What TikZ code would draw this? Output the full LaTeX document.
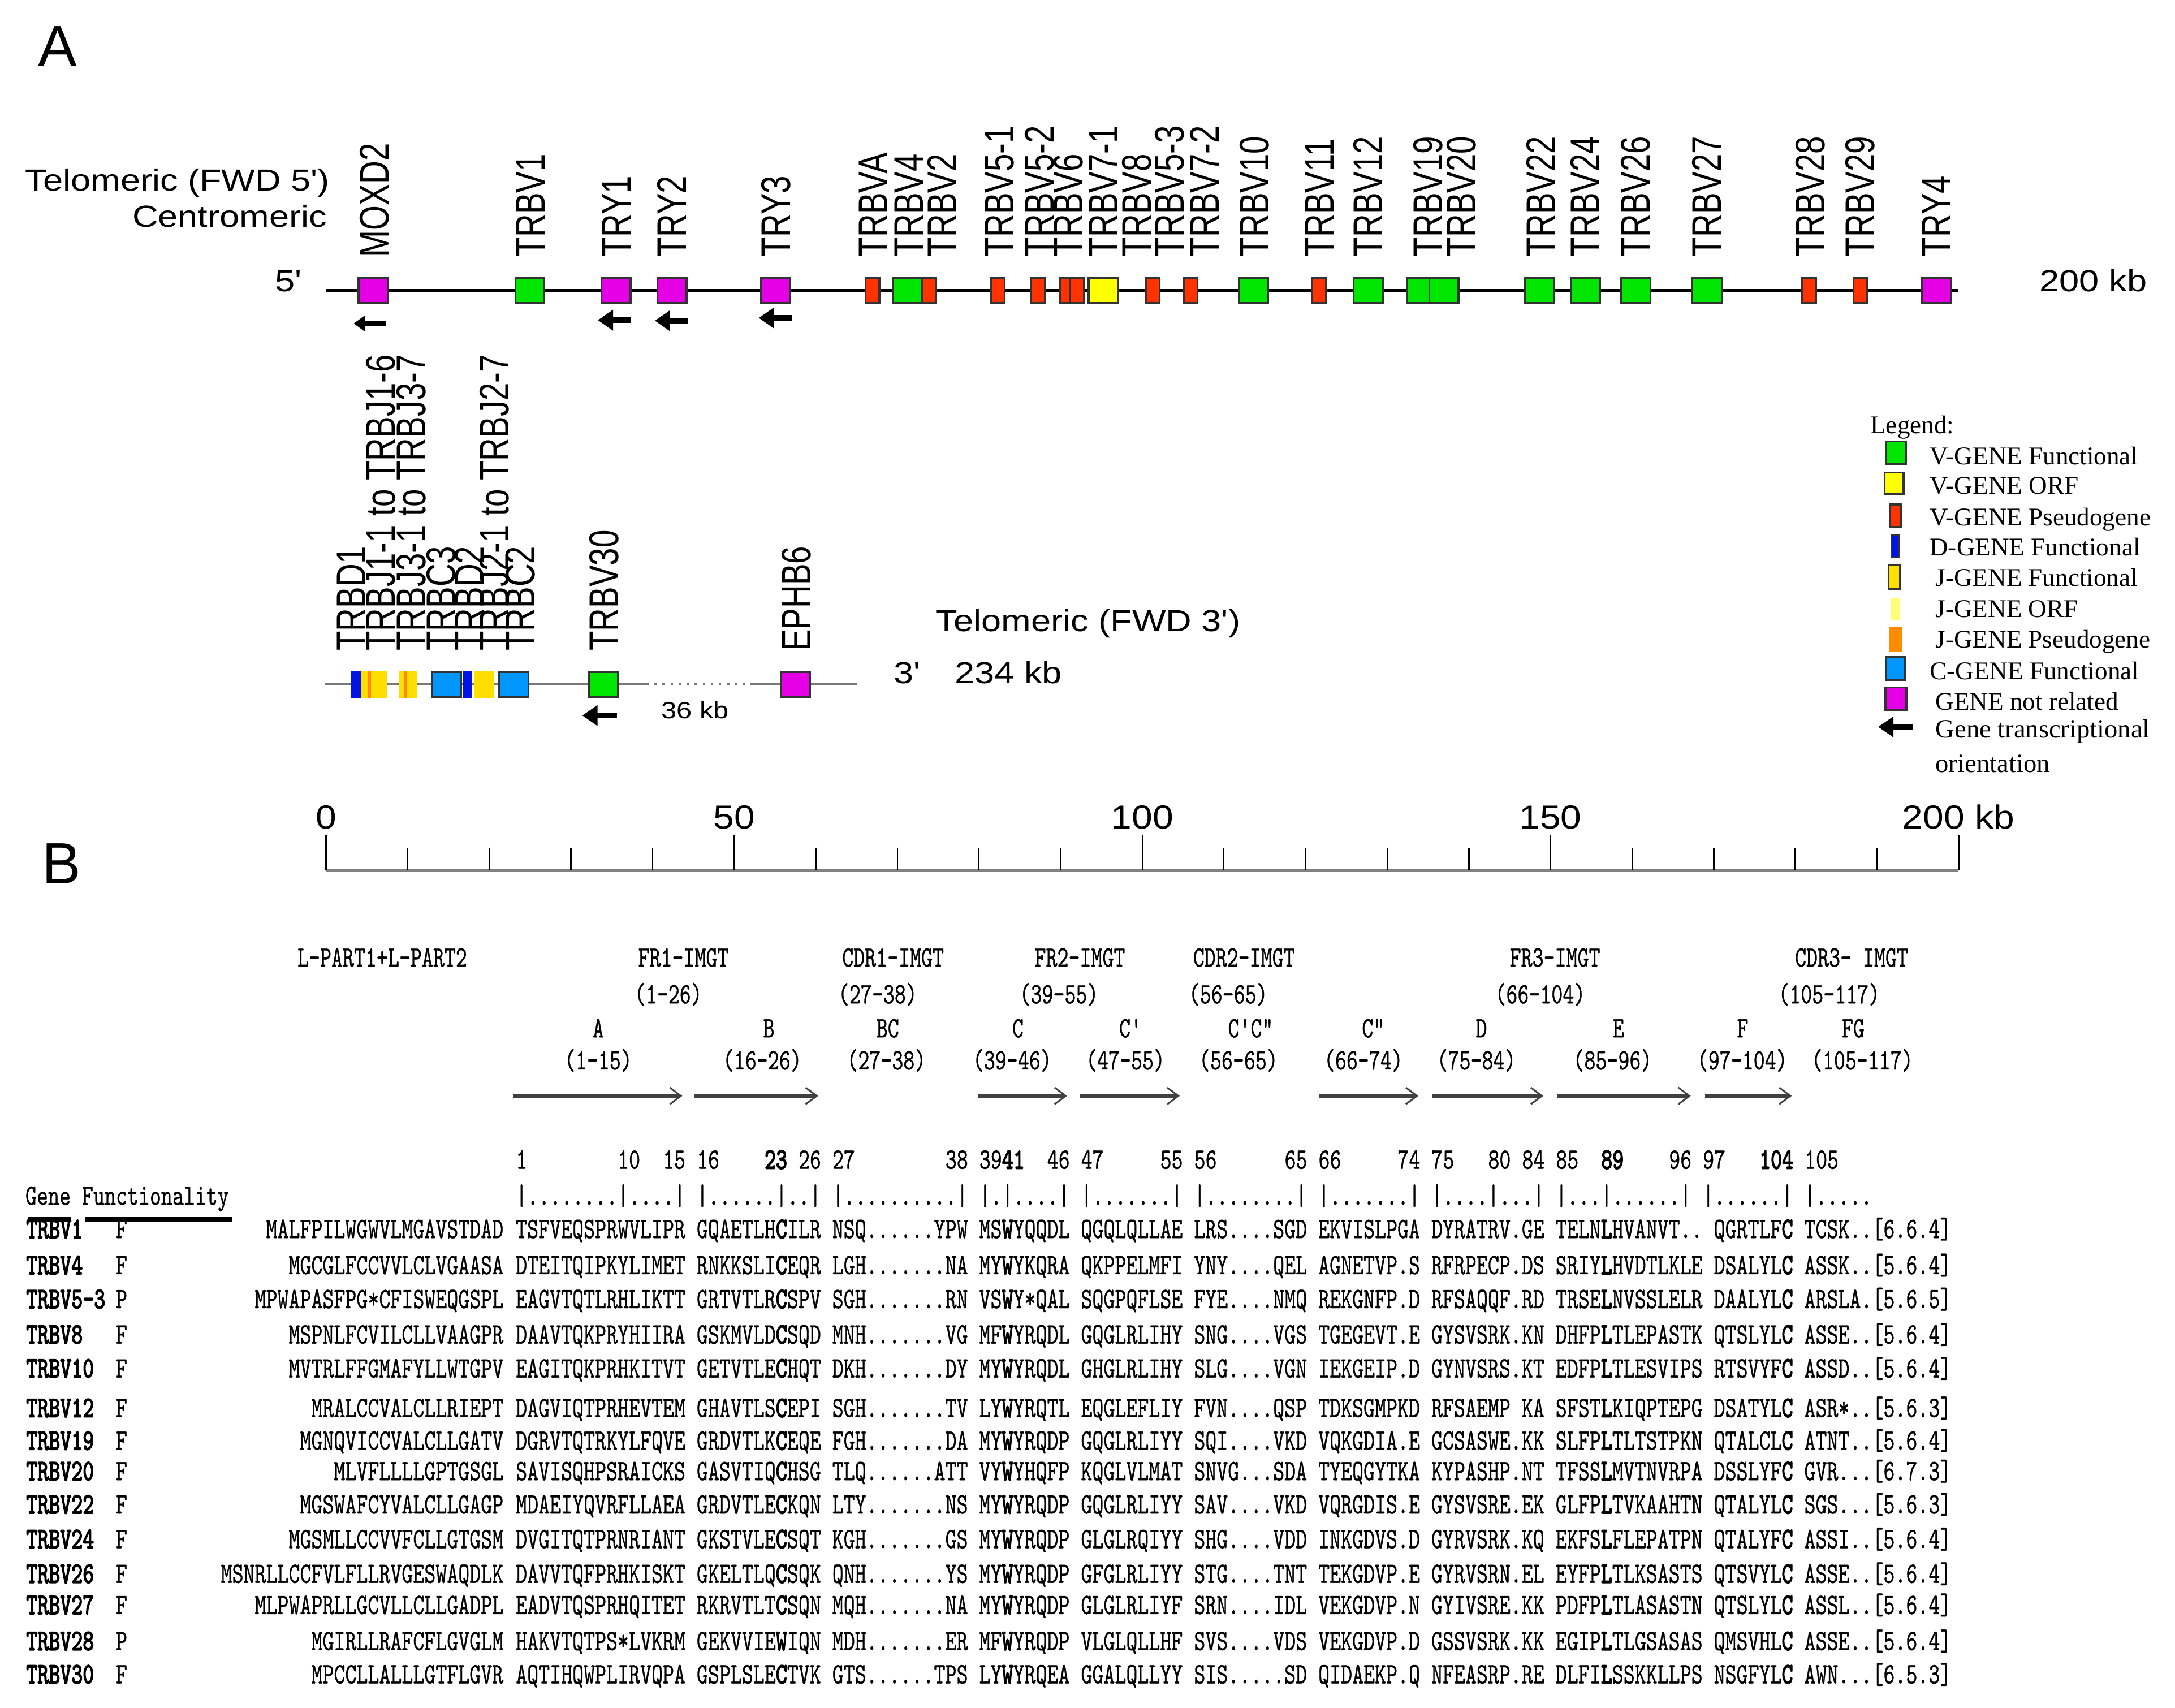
\documentclass[tikz,border=0pt]{standalone}
\usepackage{fontspec}
\usepackage{graphicx}
\setmainfont{Liberation Serif}
\setsansfont{Liberation Sans}
\newfontfamily\seqfont{lmmono10-regular.otf}[UprightFeatures={FakeBold=0.8},BoldFont=lmmono10-regular.otf,BoldFeatures={FakeBold=3.5}]
\usetikzlibrary{arrows.meta}

\definecolor{vgreen}{RGB}{0,230,0}
\definecolor{vmag}{RGB}{230,0,230}
\definecolor{vred}{RGB}{255,50,0}
\definecolor{vyel}{RGB}{255,255,0}
\definecolor{cblue}{RGB}{0,150,255}
\definecolor{dblue}{RGB}{0,20,230}
\definecolor{jyel}{RGB}{255,222,0}
\definecolor{jorf}{RGB}{255,255,120}
\definecolor{jorg}{RGB}{255,140,0}
\definecolor{lgray}{RGB}{120,120,120}

\newcommand{\tall}[1]{\scalebox{1}[1.37]{#1}}
\newcommand{\wtxt}[1]{\scalebox{1.17}[1]{#1}}
\newcommand{\ltxt}[1]{\scalebox{1}[1.3]{#1}}

\tikzset{gbox/.style={rectangle,draw=black!80,line width=0.7pt,minimum width=10.5pt,minimum height=9pt,inner sep=0pt}}
\tikzset{vfun/.style={gbox,fill=vgreen}}
\tikzset{vorf/.style={gbox,fill=vyel}}
\tikzset{vpseudo/.style={gbox,fill=vred,minimum width=5pt}}
\tikzset{notrel/.style={gbox,fill=vmag}}
\tikzset{cfun/.style={gbox,fill=cblue}}
\tikzset{dfun/.style={rectangle,fill=dblue,minimum width=3.5pt,minimum height=9.5pt,inner sep=0pt}}
\tikzset{jfun/.style={rectangle,fill=jyel,minimum width=9.5pt,minimum height=9.5pt,inner sep=0pt}}
\tikzset{jorfbox/.style={rectangle,fill=jorf,inner sep=0pt}}
\tikzset{jpseudo/.style={rectangle,fill=jorg,inner sep=0pt}}
\tikzset{jstripe/.style={rectangle,fill=jorg,minimum width=1pt,minimum height=9.5pt,inner sep=0pt}}
\tikzset{glbl/.style={rotate=90,anchor=west,inner sep=0pt,text height=10.7pt,text depth=0pt,font=\sffamily\fontsize{11.5}{13}\selectfont}}
\tikzset{side/.style={inner sep=0pt,font=\sffamily\fontsize{11}{13}\selectfont}}
\tikzset{panel/.style={anchor=base west,inner sep=0pt,font=\sffamily\fontsize{21}{24}\selectfont}}
\tikzset{orient/.style={line width=2pt,-{Triangle[length=5.5pt,width=7.2pt]}}}
\tikzset{orients/.style={line width=1.5pt,-{Triangle[length=4pt,width=5.5pt]}}}
\tikzset{chrom/.style={line width=1pt}}
\tikzset{chromb/.style={line width=0.9pt,lgray}}
\tikzset{leg/.style={anchor=base west,inner sep=0pt,font=\rmfamily\fontsize{9.2}{11}\selectfont}}
\tikzset{scl/.style={inner sep=0pt,font=\sffamily\fontsize{12}{14}\selectfont}}
\tikzset{seqtxt/.style={inner sep=0pt,font=\seqfont\fontsize{7.76}{9}\selectfont\frenchspacing}}
\tikzset{gname/.style={seqtxt,anchor=base west,font=\seqfont\bfseries\fontsize{7.76}{9}\selectfont}}
\tikzset{strand/.style={line width=1.2pt,black!75,-{Straight Barb[length=4pt,width=6pt,line width=0.6pt]}}}

\newcommand{\seqrow}[5]{%
  \node[gname] (#2) at (18.5,#1) {\tall{#2}};
  \node[seqtxt,anchor=base west] (#2f) at (83.2,#1) {\tall{#3}};
  \node[seqtxt,anchor=base east] (#2l) at (363.35,#1) {\tall{#4}};
  \node[seqtxt,anchor=base west] (#2s) at (371.5,#1) {\tall{#5}};}

\begin{document}
\begin{tikzpicture}[x=0.5pt,y=-0.5pt]
    \fill[white] (0,0) rectangle (1568,1231);
    \useasboundingbox (0,0) rectangle (1568,1231);

    \node[panel] (pa) at (27,48) {A};
    \node[panel] (pb) at (30,637) {B};

    \node[side,anchor=base east] (telo5) at (238,137.8) {\wtxt{Telomeric (FWD 5\textquotesingle)}};
    \node[side,anchor=base east] (centro) at (236,163.8) {\wtxt{Centromeric}};
    \node[side,anchor=base west] (p5) at (198,210) {\wtxt{5\textquotesingle}};
    \node[side,anchor=base west] (len1) at (1470,210) {\wtxt{200 kb}};
    \coordinate (l5) at (235,209.5);
    \coordinate (l3) at (1412,209.5);
    \draw[chrom] (l5) -- (l3);

    \foreach \x/\s/\n in {269/notrel/moxd2,382/vfun/trbv1,444/notrel/try1,484.5/notrel/try2,559/notrel/try3,
        629/vpseudo/trbva,654.4/vfun/trbv4,669.7/vpseudo/trbv2,719.2/vpseudo/trbv51,748.3/vpseudo/trbv52,
        769.1/vpseudo/trbv6,776.4/vpseudo/trbv6b,795.3/vorf/trbv71,831/vpseudo/trbv8,858.3/vpseudo/trbv53,
        903.8/vfun/trbv10,951.1/vpseudo/trbv11,986.4/vfun/trbv12,1025/vfun/trbv19,1041/vfun/trbv20,
        1110/vfun/trbv22,1143/vfun/trbv24,1179.4/vfun/trbv26,1230.6/vfun/trbv27,1304.2/vpseudo/trbv28,
        1341.2/vpseudo/trbv29,1396.3/notrel/try4}
        \node[\s] (\n) at (\x,209.5) {};

    \foreach \x/\t in {269.7/MOXD2,382/TRBV1,444/TRY1,484/TRY2,559/TRY3,629/TRBVA,655/TRBV4,679/TRBV2,
        720/TRBV5-1,749/TRBV5-2,770/TRBV6,795/TRBV7-1,819/TRBV8,843/TRBV5-3,868/TRBV7-2,904/TRBV10,
        951/TRBV11,986/TRBV12,1029/TRBV19,1053/TRBV20,1110.5/TRBV22,1142.4/TRBV24,1178.8/TRBV26,
        1230.3/TRBV27,1304.8/TRBV28,1340.6/TRBV29,1395.7/TRY4}
        \node[glbl] (lb\x) at (\x,185.5) {\ltxt{\t}};

    \draw[orients] ([xshift=4.5pt,yshift=-7pt]moxd2.south) -- ++(-23,0);
    \draw[orient] ([xshift=5.5pt,yshift=-5.8pt]try1.south) -- ++(-24,0);
    \draw[orient] ([xshift=5.8pt,yshift=-6pt]try2.south) -- ++(-24,0);
    \draw[orient] ([xshift=6pt,yshift=-5pt]try3.south) -- ++(-24,0);

    \coordinate (m5) at (234.5,493);
    \coordinate (gap1) at (466,493);
    \coordinate (gap2) at (541,493);
    \coordinate (m3) at (618,493);
    \draw[chromb] (m5) -- (gap1);
    \draw[chromb,dotted] (gap1) -- (gap2);
    \draw[chromb] (gap2) -- (m3);

    \node[dfun] (trbd1) at (256.5,493.5) {};
    \node[jfun] (trbj1) at (269.5,493.5) {};
    \node[jstripe] (st1) at (266.5,493.5) {};
    \node[jfun,minimum width=6.5pt] (trbj3) at (294.5,493.5) {};
    \node[jstripe] (st3) at (292.7,493.5) {};
    \node[cfun] (trbc3) at (322,493.5) {};
    \node[dfun,minimum width=3pt] (trbd2) at (337,493.5) {};
    \node[jfun,minimum width=7pt] (trbj2) at (349,493.5) {};
    \node[cfun] (trbc2) at (370.5,493.5) {};
    \node[vfun] (trbv30) at (435,493.5) {};
    \node[notrel] (ephb6) at (573.5,493.5) {};

    \foreach \x/\t in {253/TRBD1,274/TRBJ1-1 to TRBJ1-6,296/TRBJ3-1 to TRBJ3-7,317.6/TRBC3,338/TRBD2,
        356/TRBJ2-1 to TRBJ2-7,374.7/TRBC2,435/TRBV30,573.6/EPHB6}
        \node[glbl] (lw\x) at (\x,469.5) {\ltxt{\t}};

    \draw[orient] ([xshift=4.9pt,yshift=-6.3pt]trbv30.south) -- ++(-25,0);

    \node[side,anchor=base west] (telo3) at (674.3,455) {\wtxt{Telomeric (FWD 3\textquotesingle)}};
    \node[side,anchor=base west] (p3) at (643.8,492.7) {\wtxt{3\textquotesingle}};
    \node[side,anchor=base west] (len2) at (688,492.7) {\wtxt{234 kb}};
    \node[side,anchor=base west,font=\sffamily\fontsize{8.5}{10}\selectfont] (len3) at (476.5,518) {\wtxt{36 kb}};

    \node[leg] (legt) at (1348,312.5) {Legend:};
    \node[vfun,minimum width=7.2pt,minimum height=8.2pt] (k1) at (1367,326.3) {};
    \node[leg] (t1) at (1390.8,335.1) {V-GENE Functional};
    \node[vorf,minimum width=6.8pt,minimum height=7.8pt] (k2) at (1365.5,348.5) {};
    \node[leg] (t2) at (1390.8,356.1) {V-GENE ORF};
    \node[vpseudo,minimum width=3.8pt,minimum height=8.2pt] (k3) at (1366.4,371.8) {};
    \node[leg] (t3) at (1390.8,378.8) {V-GENE Pseudogene};
    \node[dfun,draw=black!80,line width=0.6pt,minimum width=3pt,minimum height=8pt] (k4) at (1366.4,393.8) {};
    \node[leg] (t4) at (1390.8,400.7) {D-GENE Functional};
    \node[jfun,draw=black!80,line width=0.6pt,minimum width=4.2pt,minimum height=8.6pt] (k5) at (1365.6,416) {};
    \node[leg] (t5) at (1395,422.5) {J-GENE Functional};
    \node[jorfbox,minimum width=3.5pt,minimum height=8pt] (k6) at (1366.4,439) {};
    \node[leg] (t6) at (1395,445.1) {J-GENE ORF};
    \node[jpseudo,minimum width=4.6pt,minimum height=9pt] (k7) at (1366.5,461) {};
    \node[leg] (t7) at (1395,467.1) {J-GENE Pseudogene};
    \node[cfun,minimum width=6.8pt,minimum height=8.2pt] (k8) at (1366.5,482) {};
    \node[leg] (t8) at (1390.8,489.8) {C-GENE Functional};
    \node[notrel,minimum width=7.5pt,minimum height=8.2pt] (k9) at (1366.8,503.8) {};
    \node[leg] (t9) at (1395,511.7) {GENE not related};
    \coordinate (legarr) at (1379,524);
    \draw[orient] (legarr) -- ++(-25,0);
    \node[leg,font=\rmfamily\fontsize{9.5}{11}\selectfont] (t10) at (1395,532) {Gene transcriptional};
    \node[leg,font=\rmfamily\fontsize{9.5}{11}\selectfont] (t11) at (1395,556.5) {orientation};

    \coordinate (s0) at (235,627.5);
    \coordinate (s200) at (1412,627.5);
    \draw[line width=1.35pt,gray] (s0) -- (s200);
    \foreach \k in {0,...,20}
        \draw[line width=0.5pt] (235+58.85*\k,611) -- (235+58.85*\k,627.5);
    \foreach \k in {0,5,10,15,20}
        \draw[line width=0.5pt] (235+58.85*\k,602) -- (235+58.85*\k,627.5);
    \foreach \k in {0,50,100,150}
        \node[scl,anchor=base] (kb\k) at (235+5.885*\k,597.6) {\scalebox{1.12}[1]{\k}};
    \node[scl,anchor=base west] (kb200) at (1371,597.6) {\scalebox{1.12}[1]{200 kb}};

    \foreach \x/\t in {275.6/L-PART1+L-PART2,492.7/FR1-IMGT,643.8/CDR1-IMGT,778.5/FR2-IMGT,
        896.8/CDR2-IMGT,1121/FR3-IMGT,1334.8/CDR3- IMGT}
        \node[seqtxt,anchor=base] (h\x) at (\x,696.8) {\tall{\t}};
    \foreach \x/\t in {481.8/(1-26),632.7/(27-38),763.4/(39-55),885.4/(56-65),1110.3/(66-104),1318.6/(105-117)}
        \node[seqtxt,anchor=base] (r\x) at (\x,723.3) {\tall{\t}};
    \foreach \x/\t in {431.3/A,554.3/B,640/BC,733.8/C,815/C\textquotesingle,901.6/C\textquotesingle C\textquotedbl,
        990/C\textquotedbl,1068/D,1166.8/E,1256.3/F,1336/FG}
        \node[seqtxt,anchor=base] (s\x) at (\x,747.8) {\tall{\t}};
    \foreach \x/\t in {431.3/(1-15),549.5/(16-26),639/(27-38),729.7/(39-46),811.3/(47-55),892.8/(56-65),
        982.9/(66-74),1064.3/(75-84),1162.5/(85-96),1256/(97-104),1342.5/(105-117)}
        \node[seqtxt,anchor=base] (q\x) at (\x,770.9) {\tall{\t}};
    \foreach \a/\b in {370.2/491.9,500.5/589.8,704.9/769.3,778.6/850.5,950.7/1022.5,1032.7/1112.6,
        1122.7/1218.9,1229/1291.7}
        \draw[strand] (\a,790) -- (\b,790);

    \foreach \c/\n in {0/1,9/10,13/15,16/16,22/\textbf{23},25/26,28/27,38/38,41/39,43/\textbf{41},47/46,
        50/47,57/55,60/56,68/65,71/66,78/74,81/75,86/80,89/84,92/85,96/\textbf{89},102/96,105/97,
        110/\textbf{104},114/105}
        \node[seqtxt,anchor=base west] (n\c) at (371.5+\c*8.15,842.5) {\tall{\n}};
    \node[seqtxt,anchor=base west] (ruler) at (371.5,868.5) {\tall{|........|....| |......|..| |..........| |.|....| |.......| |........| |.......| |....|...| |...|......| |......| |.....}};
    \node[seqtxt,anchor=base west] (genef) at (18,868.5) {\tall{Gene Functionality}};
    \draw[line width=1.7pt] (20,879) -- (51,879);
    \draw[line width=1.7pt] (61,879) -- (167,879);

    \seqrow{892.5}{TRBV1}{F}{MALFPILWGWVLMGAVSTDAD}{TSFVEQSPRWVLIPR GQAETLH\textbf{C}ILR NSQ......YPW MS\textbf{W}YQQDL QGQLQLLAE LRS....SGD EKVISLPGA DYRATRV.GE TELN\textbf{L}HVANVT.. QGRTLF\textbf{C} TCSK..[6.6.4]}
    \seqrow{918.5}{TRBV4}{F}{MGCGLFCCVVLCLVGAASA}{DTEITQIPKYLIMET RNKKSLI\textbf{C}EQR LGH.......NA MY\textbf{W}YKQRA QKPPELMFI YNY....QEL AGNETVP.S RFRPECP.DS SRIY\textbf{L}HVDTLKLE DSALYL\textbf{C} ASSK..[5.6.4]}
    \seqrow{943}{TRBV5-3}{P}{MPWAPASFPG*CFISWEQGSPL}{EAGVTQTLRHLIKTT GRTVTLR\textbf{C}SPV SGH.......RN VS\textbf{W}Y*QAL SQGPQFLSE FYE....NMQ REKGNFP.D RFSAQQF.RD TRSE\textbf{L}NVSSLELR DAALYL\textbf{C} ARSLA.[5.6.5]}
    \seqrow{968.5}{TRBV8}{F}{MSPNLFCVILCLLVAAGPR}{DAAVTQKPRYHIIRA GSKMVLD\textbf{C}SQD MNH.......VG MF\textbf{W}YRQDL GQGLRLIHY SNG....VGS TGEGEVT.E GYSVSRK.KN DHFP\textbf{L}TLEPASTK QTSLYL\textbf{C} ASSE..[5.6.4]}
    \seqrow{993}{TRBV10}{F}{MVTRLFFGMAFYLLWTGPV}{EAGITQKPRHKITVT GETVTLE\textbf{C}HQT DKH.......DY MY\textbf{W}YRQDL GHGLRLIHY SLG....VGN IEKGEIP.D GYNVSRS.KT EDFP\textbf{L}TLESVIPS RTSVYF\textbf{C} ASSD..[5.6.4]}
    \seqrow{1021.5}{TRBV12}{F}{MRALCCVALCLLRIEPT}{DAGVIQTPRHEVTEM GHAVTLS\textbf{C}EPI SGH.......TV LY\textbf{W}YRQTL EQGLEFLIY FVN....QSP TDKSGMPKD RFSAEMP KA SFST\textbf{L}KIQPTEPG DSATYL\textbf{C} ASR*..[5.6.3]}
    \seqrow{1045}{TRBV19}{F}{MGNQVICCVALCLLGATV}{DGRVTQTRKYLFQVE GRDVTLK\textbf{C}EQE FGH.......DA MY\textbf{W}YRQDP GQGLRLIYY SQI....VKD VQKGDIA.E GCSASWE.KK SLFP\textbf{L}TLTSTPKN QTALCL\textbf{C} ATNT..[5.6.4]}
    \seqrow{1067}{TRBV20}{F}{MLVFLLLLGPTGSGL}{SAVISQHPSRAICKS GASVTIQ\textbf{C}HSG TLQ......ATT VY\textbf{W}YHQFP KQGLVLMAT SNVG...SDA TYEQGYTKA KYPASHP.NT TFSS\textbf{L}MVTNVRPA DSSLYF\textbf{C} GVR...[6.7.3]}
    \seqrow{1091}{TRBV22}{F}{MGSWAFCYVALCLLGAGP}{MDAEIYQVRFLLAEA GRDVTLE\textbf{C}KQN LTY.......NS MY\textbf{W}YRQDP GQGLRLIYY SAV....VKD VQRGDIS.E GYSVSRE.EK GLFP\textbf{L}TVKAAHTN QTALYL\textbf{C} SGS...[5.6.3]}
    \seqrow{1116}{TRBV24}{F}{MGSMLLCCVVFCLLGTGSM}{DVGITQTPRNRIANT GKSTVLE\textbf{C}SQT KGH.......GS MY\textbf{W}YRQDP GLGLRQIYY SHG....VDD INKGDVS.D GYRVSRK.KQ EKFS\textbf{L}FLEPATPN QTALYF\textbf{C} ASSI..[5.6.4]}
    \seqrow{1141}{TRBV26}{F}{MSNRLLCCFVLFLLRVGESWAQDLK}{DAVVTQFPRHKISKT GKELTLQ\textbf{C}SQK QNH.......YS MY\textbf{W}YRQDP GFGLRLIYY STG....TNT TEKGDVP.E GYRVSRN.EL EYFP\textbf{L}TLKSASTS QTSVYL\textbf{C} ASSE..[5.6.4]}
    \seqrow{1163.5}{TRBV27}{F}{MLPWAPRLLGCVLLCLLGADPL}{EADVTQSPRHQITET RKRVTLT\textbf{C}SQN MQH.......NA MY\textbf{W}YRQDP GLGLRLIYF SRN....IDL VEKGDVP.N GYIVSRE.KK PDFP\textbf{L}TLASASTN QTSLYL\textbf{C} ASSL..[5.6.4]}
    \seqrow{1189.5}{TRBV28}{P}{MGIRLLRAFCFLGVGLM}{HAKVTQTPS*LVKRM GEKVVIE\textbf{W}IQN MDH.......ER MF\textbf{W}YRQDP VLGLQLLHF SVS....VDS VEKGDVP.D GSSVSRK.KK EGIP\textbf{L}TLGSASAS QMSVHL\textbf{C} ASSE..[5.6.4]}
    \seqrow{1213.5}{TRBV30}{F}{MPCCLLALLLGTFLGVR}{AQTIHQWPLIRVQPA GSPLSLE\textbf{C}TVK GTS......TPS LY\textbf{W}YRQEA GGALQLLYY SIS.....SD QIDAEKP.Q NFEASRP.RE DLFI\textbf{L}SSKKLLPS NSGFYL\textbf{C} AWN...[6.5.3]}
\end{tikzpicture}
\end{document}
